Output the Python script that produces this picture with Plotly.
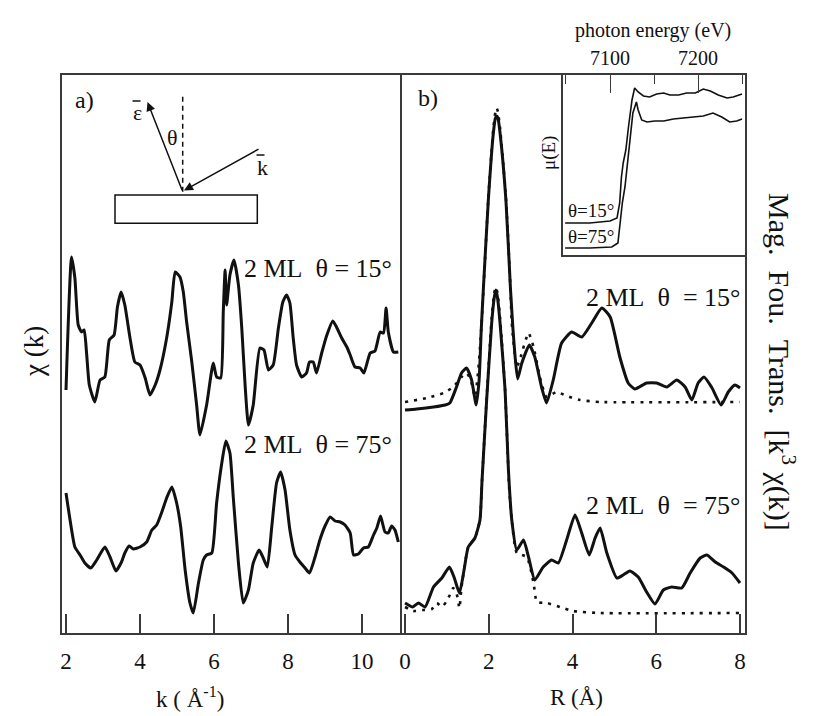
import plotly.graph_objects as go

# ---------------- data ----------------
# panel a: chi(k), curves already vertically offset (arbitrary units)
k_15 = [2.00, 2.15, 2.24, 2.33, 2.42, 2.49, 2.56, 2.63, 2.78, 2.92, 3.05, 3.17, 3.30, 3.39, 3.49, 3.59, 3.73, 3.86,
        4.00, 4.14, 4.27, 4.41, 4.54, 4.72, 4.86, 4.95, 5.08, 5.17, 5.26, 5.40, 5.53, 5.62, 5.80, 5.98, 6.07, 6.18,
        6.25, 6.30, 6.34, 6.43, 6.54, 6.66, 6.75, 6.84, 6.93, 7.06, 7.24, 7.35, 7.47, 7.60, 7.74, 7.86, 7.96, 8.05,
        8.14, 8.23, 8.37, 8.50, 8.58, 8.68, 8.77, 8.91, 9.05, 9.21, 9.31, 9.45, 9.59, 9.68, 9.81, 9.95, 10.05, 10.22,
        10.35, 10.49, 10.58, 10.65, 10.71, 10.85, 10.98]
chi_15 = [2.43, 3.76, 3.55, 3.08, 3.01, 3.03, 2.78, 2.48, 2.31, 2.53, 2.56, 2.93, 2.98, 3.26, 3.41, 3.28, 2.95, 2.71,
          2.68, 2.55, 2.38, 2.48, 2.63, 2.95, 3.31, 3.61, 3.56, 3.41, 3.11, 2.71, 2.28, 1.98, 2.28, 2.70, 2.56, 2.55,
          3.21, 3.63, 3.28, 3.58, 3.73, 3.48, 3.05, 2.48, 2.08, 2.28, 2.85, 2.83, 2.63, 2.68, 3.05, 3.31, 3.38, 3.30,
          2.95, 2.68, 2.56, 2.60, 2.71, 2.71, 2.60, 2.80, 2.98, 3.12, 3.06, 2.95, 2.86, 2.78, 2.66, 2.65, 2.60, 2.80,
          2.82, 3.01, 3.00, 3.25, 3.01, 2.81, 2.81]

k_75 = [2.00, 2.11, 2.24, 2.38, 2.51, 2.67, 2.83, 3.05, 3.19, 3.35, 3.50, 3.59, 3.71, 3.82, 4.00, 4.18, 4.32, 4.45,
        4.59, 4.72, 4.86, 4.99, 5.10, 5.22, 5.35, 5.44, 5.58, 5.71, 5.80, 5.94, 6.07, 6.21, 6.32, 6.43, 6.52, 6.66,
        6.79, 6.93, 7.06, 7.22, 7.33, 7.44, 7.56, 7.69, 7.80, 7.92, 8.05, 8.19, 8.32, 8.46, 8.58, 8.73, 8.86, 9.00,
        9.14, 9.27, 9.41, 9.54, 9.68, 9.77, 9.90, 10.04, 10.17, 10.31, 10.40, 10.50, 10.62, 10.71, 10.80, 10.89, 10.98]
chi_75 = [1.40, 1.13, 0.86, 0.78, 0.70, 0.65, 0.73, 0.86, 0.76, 0.62, 0.71, 0.80, 0.87, 0.84, 0.86, 0.91, 1.03, 1.08,
          1.21, 1.35, 1.46, 1.30, 1.06, 0.63, 0.30, 0.20, 0.50, 0.73, 0.78, 0.80, 1.30, 1.70, 1.92, 1.80, 1.36, 0.70,
          0.30, 0.43, 0.70, 0.83, 0.75, 0.66, 1.06, 1.50, 1.61, 1.43, 1.03, 0.78, 0.71, 0.65, 0.60, 0.76, 0.93, 1.07,
          1.16, 1.12, 1.11, 1.08, 1.00, 0.78, 0.79, 0.85, 0.86, 0.98, 1.05, 1.17, 1.01, 1.00, 1.07, 1.03, 0.91]

# panel b: |FT| data (solid) and fit (dotted), offset
R_15 = [0.00, 0.28, 0.68, 0.96, 1.07, 1.23, 1.35, 1.47, 1.59, 1.70, 1.77, 1.82, 1.87, 1.99, 2.11, 2.16, 2.19, 2.22,
        2.27, 2.41, 2.52, 2.58, 2.63, 2.69, 2.79, 2.97, 3.10, 3.26, 3.38, 3.54, 3.74, 3.98, 4.22, 4.46, 4.70, 4.90,
        5.13, 5.33, 5.49, 5.77, 6.01, 6.25, 6.49, 6.69, 6.85, 7.00, 7.14, 7.32, 7.55, 7.72, 7.88, 8.00]
ft_15 = [2.23, 2.24, 2.26, 2.28, 2.30, 2.46, 2.60, 2.65, 2.53, 2.28, 2.53, 3.03, 3.43, 4.33, 5.00, 5.15, 5.17, 5.15,
         5.00, 4.33, 3.43, 3.03, 2.76, 2.54, 2.70, 2.88, 2.76, 2.46, 2.30, 2.53, 2.90, 3.01, 2.96, 3.10, 3.25, 3.16,
         2.76, 2.50, 2.44, 2.50, 2.50, 2.46, 2.53, 2.46, 2.33, 2.50, 2.56, 2.46, 2.28, 2.41, 2.48, 2.45]
Rfit_15 = [0.00, 0.52, 0.92, 1.15, 1.35, 1.47, 1.57, 1.67, 1.75, 1.83, 1.99, 2.11, 2.16, 2.19, 2.22, 2.27, 2.41, 2.52,
           2.55, 2.67, 2.76, 2.95, 3.07, 3.22, 3.38, 3.62, 3.86, 4.18, 4.66, 8.00]
fit_15 = [2.31, 2.35, 2.40, 2.46, 2.56, 2.60, 2.53, 2.36, 2.63, 3.10, 4.35, 5.05, 5.21, 5.25, 5.21, 5.05, 4.35, 3.43,
          3.10, 2.66, 2.76, 3.00, 2.86, 2.56, 2.36, 2.41, 2.37, 2.33, 2.31, 2.31]

R_75 = [0.00, 0.08, 0.18, 0.32, 0.48, 0.68, 0.88, 1.06, 1.17, 1.30, 1.41, 1.51, 1.67, 1.79, 1.84, 1.95, 2.07, 2.13,
        2.17, 2.21, 2.27, 2.39, 2.47, 2.55, 2.67, 2.83, 2.95, 3.10, 3.30, 3.50, 3.66, 3.86, 4.06, 4.22, 4.40, 4.54,
        4.66, 4.82, 5.06, 5.21, 5.37, 5.57, 5.77, 5.97, 6.17, 6.37, 6.61, 6.81, 7.05, 7.21, 7.41, 7.61, 7.81, 8.00]
ft_75 = [0.30, 0.28, 0.26, 0.30, 0.26, 0.46, 0.55, 0.66, 0.56, 0.40, 0.63, 0.86, 0.95, 1.13, 1.53, 2.33, 3.10, 3.35,
         3.43, 3.35, 3.10, 2.43, 1.63, 1.13, 0.83, 0.93, 0.76, 0.53, 0.66, 0.73, 0.70, 0.93, 1.18, 1.00, 0.78, 0.95,
         1.05, 0.80, 0.55, 0.58, 0.62, 0.56, 0.41, 0.29, 0.43, 0.46, 0.45, 0.60, 0.75, 0.78, 0.71, 0.66, 0.60, 0.50]
Rfit_75 = [0.00, 0.20, 0.44, 0.64, 0.76, 0.88, 0.98, 1.07, 1.15, 1.23, 1.30, 1.35, 1.51, 1.67, 1.79, 1.84, 1.95, 2.07,
           2.13, 2.17, 2.21, 2.27, 2.39, 2.49, 2.55, 2.67, 2.91, 3.07, 3.15, 3.38, 3.70, 4.02, 4.66, 8.00]
fit_75 = [0.26, 0.22, 0.23, 0.24, 0.30, 0.26, 0.31, 0.38, 0.45, 0.40, 0.25, 0.46, 0.86, 0.95, 1.13, 1.53, 2.35, 3.15,
          3.40, 3.46, 3.40, 3.15, 2.43, 1.43, 1.13, 0.80, 0.76, 0.50, 0.31, 0.30, 0.26, 0.22, 0.20, 0.20]

# inset: mu(E)
E_15 = [7049, 7077, 7100, 7108, 7111, 7113, 7115, 7118, 7121, 7125, 7128, 7132, 7138, 7145, 7153, 7161, 7168, 7178,
        7187, 7197, 7206, 7214, 7223, 7233, 7240, 7250]
mu_15 = [0.32, 0.32, 0.34, 0.37, 0.52, 0.78, 0.92, 1.05, 1.28, 1.55, 1.67, 1.63, 1.59, 1.58, 1.61, 1.62, 1.60, 1.60,
         1.62, 1.62, 1.66, 1.64, 1.60, 1.57, 1.58, 1.61]
E_75 = [7049, 7077, 7102, 7109, 7111, 7114, 7117, 7120, 7123, 7126, 7130, 7132, 7136, 7142, 7151, 7161, 7172, 7183,
        7195, 7206, 7217, 7227, 7236, 7244, 7250]
mu_75 = [0.07, 0.07, 0.08, 0.12, 0.28, 0.52, 0.68, 0.95, 1.18, 1.42, 1.53, 1.45, 1.35, 1.33, 1.34, 1.34, 1.36, 1.37,
         1.38, 1.39, 1.42, 1.38, 1.33, 1.34, 1.36]

k_ticks = [2, 4, 6, 8, 10]
R_ticks = [0, 2, 4, 6, 8]
E_ticks = [7100, 7200]
E_minor = [7050, 7150, 7250]

# ---------------- figure ----------------
W, H = 816, 716
L, Rm, T, B = 62, 71, 75, 83
FONT = "Liberation Serif"
INK = "#111111"
FRAME = "#3a3a3a"

def P(x, y):
    """pixel position -> paper coordinates"""
    return (x - L) / (W - L - Rm), (H - B - y) / (H - T - B)

fig = go.Figure()
solid = dict(color=INK, width=3, shape="spline", smoothing=0.5)
dotted = dict(color=INK, width=2.6, dash="3px,6px", shape="spline", smoothing=0.5)
thin = dict(color=INK, width=1.6)

fig.add_trace(go.Scatter(x=k_15, y=chi_15, mode="lines", line=solid, xaxis="x", yaxis="y"))
fig.add_trace(go.Scatter(x=k_75, y=chi_75, mode="lines", line=solid, xaxis="x", yaxis="y"))

fig.add_trace(go.Scatter(x=Rfit_15, y=fit_15, mode="lines", line=dotted, xaxis="x2", yaxis="y2"))
fig.add_trace(go.Scatter(x=R_15, y=ft_15, mode="lines", line=solid, xaxis="x2", yaxis="y2"))
fig.add_trace(go.Scatter(x=Rfit_75, y=fit_75, mode="lines", line=dotted, xaxis="x2", yaxis="y2"))
fig.add_trace(go.Scatter(x=R_75, y=ft_75, mode="lines", line=solid, xaxis="x2", yaxis="y2"))

fig.add_trace(go.Scatter(x=E_15, y=mu_15, mode="lines", line=thin, xaxis="x3", yaxis="y3"))
fig.add_trace(go.Scatter(x=E_75, y=mu_75, mode="lines", line=thin, xaxis="x3", yaxis="y3"))

split = 340 / (W - L - Rm)
ax_line = dict(showline=True, linecolor=FRAME, linewidth=2, showgrid=False, zeroline=False)
tickfont = dict(family=FONT, size=23, color=INK)

fig.update_layout(
    width=W, height=H, margin=dict(l=L, r=Rm, t=T, b=B),
    paper_bgcolor="white", plot_bgcolor="white", showlegend=False,
    font=dict(family=FONT, color=INK),
    xaxis=dict(domain=[0, split], range=[1.892, 11.08], tickvals=k_ticks, ticks="inside", ticklen=19,
               tickwidth=1.5, tickcolor=FRAME, tickfont=tickfont, ticklabelstandoff=6, anchor="y",
               mirror=True, **ax_line),
    yaxis=dict(domain=[0, 1], range=[0, 5.58], showticklabels=False, ticks="", anchor="x", mirror=False, **ax_line),
    xaxis2=dict(domain=[split, 1], range=[-0.072, 8.12], tickvals=R_ticks, ticks="inside", ticklen=19,
                tickwidth=1.5, tickcolor=FRAME, tickfont=tickfont, ticklabelstandoff=6, anchor="y2",
                mirror=True, **ax_line),
    yaxis2=dict(domain=[0, 1], range=[0, 5.58], showticklabels=False, ticks="", anchor="x2", mirror=True, **ax_line),
    xaxis3=dict(domain=[P(563, 0)[0], 1], range=[7046.6, 7253.4], side="top", tickvals=E_ticks, ticks="inside",
                ticklen=18, tickwidth=1.3, tickcolor=FRAME, tickfont=dict(family=FONT, size=20, color=INK),
                minor=dict(tickvals=E_minor, ticks="inside", ticklen=9, tickwidth=1.3, tickcolor=FRAME),
                anchor="y3", showline=True, linecolor=FRAME, linewidth=1.5, mirror=True, showgrid=False,
                zeroline=False),
    yaxis3=dict(domain=[P(0, 255)[1], 1], range=[0, 1.8], showticklabels=False, ticks="", anchor="x3",
                showline=True, linecolor=FRAME, linewidth=1.5, mirror=True, showgrid=False, zeroline=False),
)

ann = []

def text(x, y, s, size, xanchor="center", angle=0):
    px_, py_ = P(x, y)
    ann.append(dict(x=px_, y=py_, xref="paper", yref="paper", text=s, showarrow=False, xanchor=xanchor,
                    yanchor="middle", textangle=angle, font=dict(family=FONT, size=size, color=INK)))

text(84, 100, "a)", 24)
text(428, 98, "b)", 24)
text(394, 268, "2 ML\u00a0\u00a0θ = 15°", 26, xanchor="right")
text(394, 445, "2 ML\u00a0\u00a0θ = 75°", 26, xanchor="right")
text(743, 297, "2 ML\u00a0\u00a0θ\u00a0\u00a0= 15°", 26, xanchor="right")
text(743, 505, "2 ML\u00a0\u00a0θ\u00a0\u00a0= 75°", 26, xanchor="right")
text(566, 210, "θ=15°", 19, xanchor="left")
text(566, 236, "θ=75°", 19, xanchor="left")
text(549, 153, "μ(E)", 19, angle=-90)
text(653, 30, "photon energy (eV)", 20)
text(190, 697, "k ( Å<sup>-1</sup>)", 23)
text(576, 697, "R (Å)", 23)
text(34, 352, "χ (k)", 27, angle=-90)
text(782, 362, "Mag.\u00a0\u00a0Fou.\u00a0\u00a0Trans.\u00a0\u00a0[k<sup>3</sup>\u00a0χ(k)]", 30, angle=90)
# schematic labels
text(137, 112, "ε", 22)
text(172, 137, "θ", 22)
text(262, 167, "k", 22)

# schematic arrows (decoration)
def arrow(hx, hy, tx, ty):
    px_, py_ = P(hx, hy)
    ann.append(dict(x=px_, y=py_, xref="paper", yref="paper", ax=tx - hx, ay=ty - hy, text="", showarrow=True,
                    arrowhead=2, arrowsize=1.2, arrowwidth=1.5, arrowcolor=INK))

arrow(147.5, 102, 182.7, 191.7)
arrow(184, 190.5, 260, 148.3)
fig.update_layout(annotations=ann)

def seg(xa, ya, xb, yb, dash=None):
    a0, b0 = P(xa, ya)
    a1, b1 = P(xb, yb)
    d = dict(color=INK, width=1.5)
    if dash:
        d["dash"] = dash
    return dict(type="line", xref="paper", yref="paper", x0=a0, y0=b0, x1=a1, y1=b1, line=d)

rx0, ry0 = P(115, 223.3)
rx1, ry1 = P(257.3, 195)
fig.update_layout(shapes=[
    seg(182.7, 96.7, 182.7, 191.7, dash="5px,4px"),
    seg(132.5, 101, 140.5, 101),   # bar over epsilon
    seg(256.5, 155, 264.5, 155),   # bar over k
    dict(type="rect", xref="paper", yref="paper", x0=rx0, y0=ry0, x1=rx1, y1=ry1,
         line=dict(color=INK, width=1.5), fillcolor="rgba(0,0,0,0)"),
])

fig.write_html("out.html")
